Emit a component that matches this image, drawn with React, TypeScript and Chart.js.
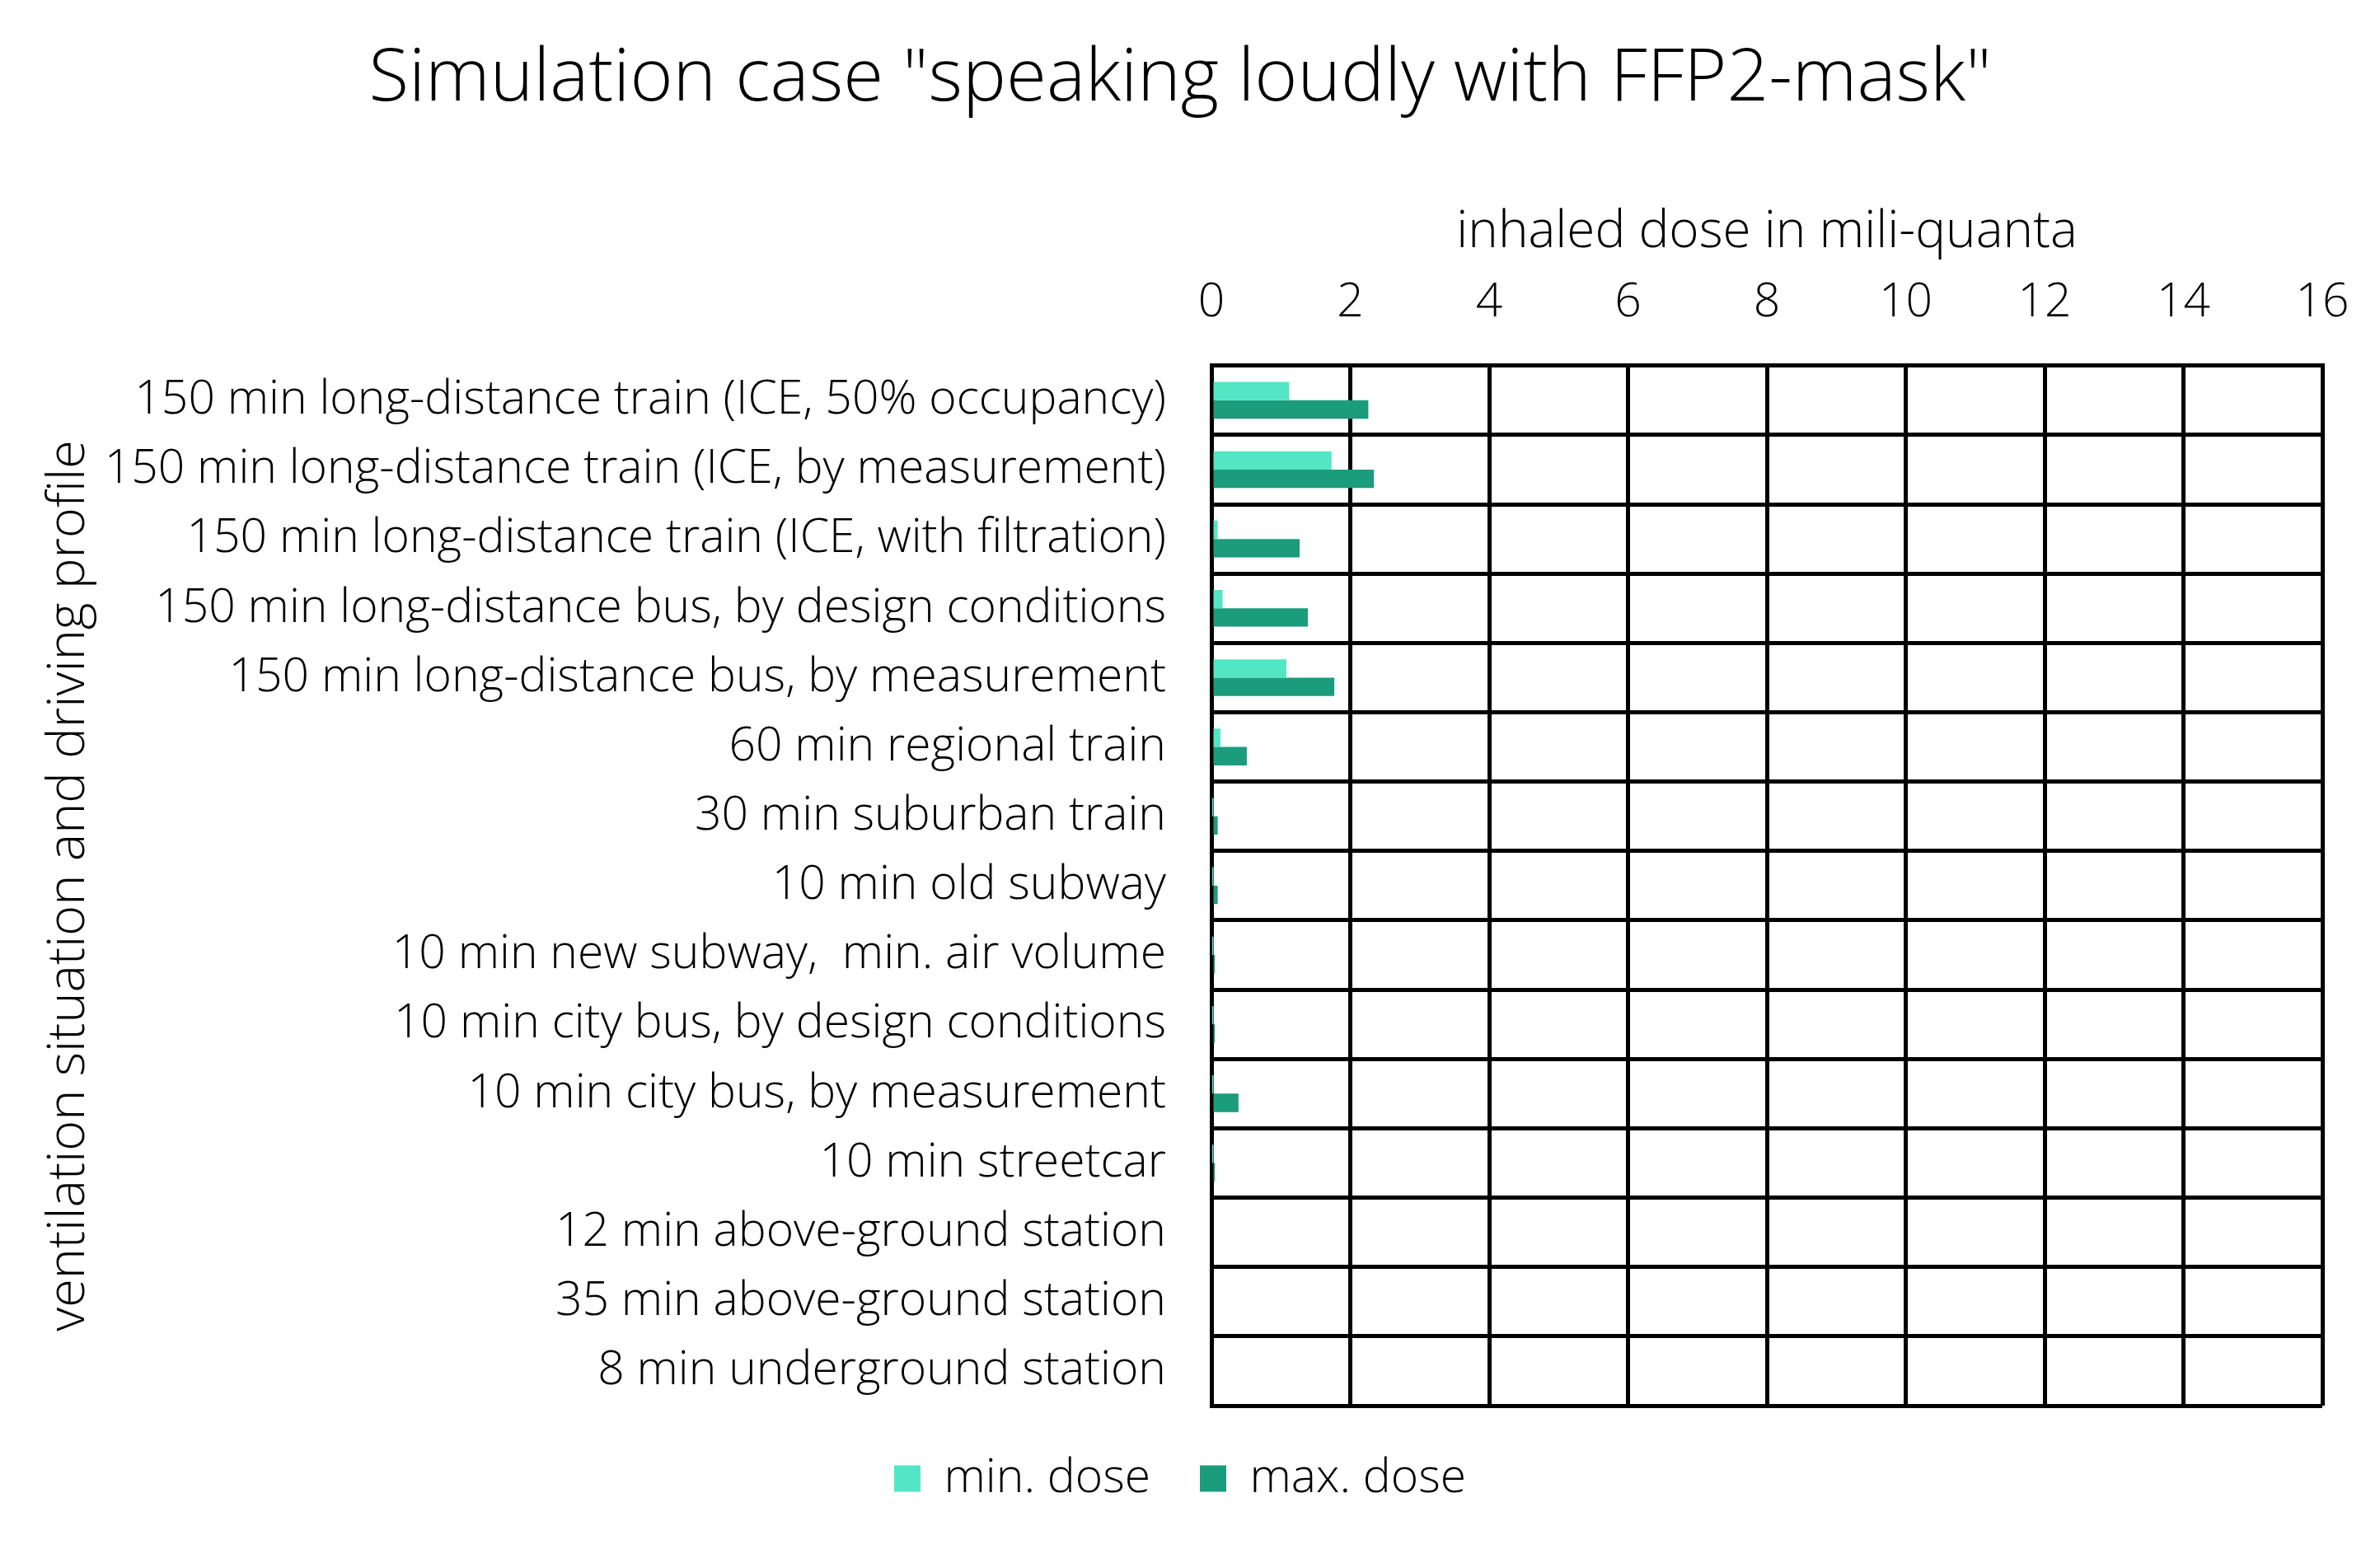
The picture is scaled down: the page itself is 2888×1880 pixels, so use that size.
import React, { useEffect, useRef } from "react";
import { Chart, registerables } from "chart.js";

Chart.register(...registerables);

const categories = [
  "150 min long-distance train (ICE, 50% occupancy)",
  "150 min long-distance train (ICE, by measurement)",
  "150 min long-distance train (ICE, with filtration)",
  "150 min long-distance bus, by design conditions",
  "150 min long-distance bus, by measurement",
  "60 min regional train",
  "30 min suburban train",
  "10 min old subway",
  "10 min new subway,  min. air volume",
  "10 min city bus, by design conditions",
  "10 min city bus, by measurement",
  "10 min streetcar",
  "12 min above-ground station",
  "35 min above-ground station",
  "8 min underground station",
];

const minDose = [1.12, 1.73, 0.09, 0.16, 1.08, 0.13, 0.01, 0.01, 0.01, 0.01, 0.01, 0.01, 0, 0, 0];
const maxDose = [2.26, 2.34, 1.27, 1.39, 1.77, 0.51, 0.09, 0.09, 0.05, 0.05, 0.39, 0.05, 0, 0, 0];

const xTickValues = [0, 16];
const xStep = 2;

const seriesLabels = ["min. dose", "max. dose"];
const seriesColors = ["#53E6C4", "#1B9C7C"];

const chartTitle = 'Simulation case "speaking loudly with FFP2-mask"';
const xTitle = "inhaled dose in mili-quanta";
const yTitle = "ventilation situation and driving profile";

const FONT = "'Open Sans', 'Noto Sans', sans-serif";

export default function App() {
  const ref = useRef<HTMLCanvasElement | null>(null);

  useEffect(() => {
    document.body.style.margin = "0";
    const canvas = ref.current;
    if (!canvas) return;
    const chart = new Chart(canvas, {
      type: "bar",
      data: {
        labels: categories,
        datasets: [
          { label: seriesLabels[0], data: minDose, backgroundColor: seriesColors[0], borderWidth: 0 },
          { label: seriesLabels[1], data: maxDose, backgroundColor: seriesColors[1], borderWidth: 0 },
        ],
      },
      options: {
        indexAxis: "y",
        animation: false,
        responsive: false,
        maintainAspectRatio: false,
        datasets: { bar: { categoryPercentage: 0.53, barPercentage: 1.0 } },
        layout: { padding: { left: 46, right: 70, top: 0, bottom: 47 } },
        plugins: {
          title: {
            display: true,
            text: chartTitle,
            color: "#000",
            font: { family: FONT, size: 89, weight: "300" },
            padding: { top: 43, bottom: 30 },
          },
          legend: {
            position: "bottom",
            labels: {
              color: "#000",
              font: { family: FONT, size: 57, weight: "300" },
              boxWidth: 32,
              boxHeight: 32,
              padding: 60,
            },
          },
          tooltip: { enabled: false },
        },
        scales: {
          x: {
            position: "top",
            min: xTickValues[0],
            max: xTickValues[1],
            ticks: {
              stepSize: xStep,
              color: "#000",
              padding: 2,
              font: { family: FONT, size: 57, weight: "300" },
            },
            grid: { color: "#000", lineWidth: 5, drawTicks: true, tickLength: 40, tickColor: "rgba(0,0,0,0)" },
            border: { color: "#000", width: 5 },
            title: {
              display: true,
              text: xTitle,
              color: "#000",
              font: { family: FONT, size: 62, weight: "300" },
              padding: { top: 65, bottom: 0 },
            },
            afterFit: (scale: any) => {
              scale.height = 264;
            },
          },
          y: {
            ticks: {
              color: "#000",
              padding: 55,
              font: { family: FONT, size: 57, weight: "300" },
            },
            grid: { color: "#000", lineWidth: 5, drawTicks: false, offset: true },
            border: { color: "#000", width: 5 },
            title: {
              display: true,
              text: yTitle,
              color: "#000",
              font: { family: FONT, size: 63, weight: "300" },
              padding: { top: 0, bottom: 0 },
            },
            afterFit: (scale: any) => {
              scale.width = 1424;
            },
          },
        },
      },
    });
    return () => chart.destroy();
  }, []);

  return <canvas ref={ref} width={2888} height={1880} style={{ display: "block", width: 2888, height: 1880 }} />;
}
